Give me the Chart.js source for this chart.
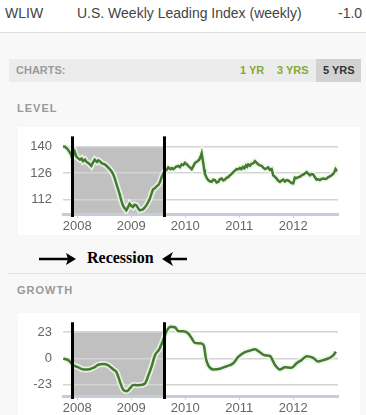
<!DOCTYPE html>
<html>
<head>
<meta charset="utf-8">
<script src="https://cdn.jsdelivr.net/npm/chart.js@4.4.0/dist/chart.umd.min.js"></script>
<style>
body{margin:0;width:366px;height:415px;overflow:hidden;background:#f8f8f8;font-family:"Liberation Sans",Arial,sans-serif;position:relative}
.abs{position:absolute;white-space:nowrap}
.head{left:0;top:0;width:366px;height:32px;background:#fff;border-bottom:1px solid #dcdcdc}
.lbl{font-size:11px;font-weight:bold;color:#999;letter-spacing:1px}
canvas{position:absolute;left:0}
</style>
</head>
<body>
<div class="abs head"></div>
<div class="abs" style="left:5px;top:5px;font-size:14px;color:#444">WLIW</div>
<div class="abs" style="left:77px;top:5px;font-size:14px;color:#444">U.S. Weekly Leading Index (weekly)</div>
<div class="abs" style="left:338px;top:5px;font-size:14px;color:#444">-1.0</div>

<div class="abs" style="left:9px;top:59px;width:352px;height:23px;background:#ececec"></div>
<div class="abs" style="left:316px;top:59px;width:45px;height:23px;background:#d2d2d2"></div>
<div class="abs" style="left:16px;top:64px;font-size:11px;font-weight:bold;color:#9a9a9a">CHARTS:</div>
<div class="abs" style="left:240px;top:64px;font-size:11px;font-weight:bold;color:#86a83a">1 YR</div>
<div class="abs" style="left:277px;top:64px;font-size:11px;font-weight:bold;color:#86a83a">3 YRS</div>
<div class="abs" style="left:323px;top:64px;font-size:11px;font-weight:bold;color:#333">5 YRS</div>

<div class="abs lbl" style="left:17px;top:102px">LEVEL</div>
<div class="abs" style="left:18px;top:127px;width:342px;height:108px;background:#fff"></div>
<canvas id="levelChart" width="366" height="110" style="top:125px"></canvas>

<svg class="abs" style="left:0;top:248px" width="200" height="22">
  <line x1="39" y1="11" x2="70" y2="11" stroke="#000" stroke-width="2.5"/>
  <polygon points="76,11 66,5 68,11 66,17" fill="#000"/>
  <line x1="170" y1="11" x2="187" y2="11" stroke="#000" stroke-width="2.5"/>
  <polygon points="162,11 173,4 170,11 173,18" fill="#000"/>
</svg>
<div class="abs" style="left:87px;top:249px;font-family:'Liberation Serif','Times New Roman',serif;font-weight:bold;font-size:16px;color:#000">Recession</div>

<div class="abs" style="left:8px;top:273px;width:358px;height:1px;background:#e4e4e4"></div>
<div class="abs lbl" style="left:17px;top:284px">GROWTH</div>
<div class="abs" style="left:18px;top:313px;width:342px;height:102px;background:#fff"></div>
<canvas id="growthChart" width="366" height="110" style="top:305px"></canvas>

<script>
// x values are decimal years
var levelDates = [2007.735,2007.772,2007.828,2007.889,2007.902,2007.935,2007.952,2007.985,2008.013,2008.050,2008.080,2008.106,2008.143,2008.170,2008.198,2008.230,2008.259,2008.290,2008.322,2008.365,2008.390,2008.415,2008.457,2008.507,2008.550,2008.600,2008.630,2008.661,2008.690,2008.722,2008.755,2008.785,2008.815,2008.846,2008.875,2008.907,2008.940,2008.970,2009.004,2009.031,2009.060,2009.093,2009.125,2009.156,2009.190,2009.217,2009.250,2009.278,2009.310,2009.341,2009.372,2009.402,2009.440,2009.470,2009.513,2009.540,2009.563,2009.595,2009.624,2009.655,2009.685,2009.726,2009.750,2009.778,2009.828,2009.870,2009.900,2009.933,2009.965,2009.994,2010.025,2010.056,2010.090,2010.119,2010.150,2010.180,2010.220,2010.259,2010.285,2010.304,2010.320,2010.333,2010.350,2010.365,2010.395,2010.426,2010.455,2010.489,2010.520,2010.550,2010.580,2010.611,2010.640,2010.674,2010.705,2010.735,2010.765,2010.796,2010.830,2010.859,2010.905,2010.952,2010.985,2011.013,2011.040,2011.069,2011.095,2011.124,2011.145,2011.167,2011.200,2011.230,2011.260,2011.291,2011.320,2011.352,2011.385,2011.415,2011.445,2011.476,2011.505,2011.537,2011.570,2011.600,2011.630,2011.660,2011.693,2011.720,2011.754,2011.785,2011.815,2011.845,2011.878,2011.910,2011.939,2011.970,2012.000,2012.031,2012.060,2012.093,2012.125,2012.156,2012.200,2012.248,2012.280,2012.309,2012.340,2012.370,2012.400,2012.433,2012.465,2012.494,2012.525,2012.556,2012.590,2012.619,2012.650,2012.680,2012.710,2012.741,2012.765,2012.785,2012.804,2012.815];
var levelValues = [140.0,139.8,138.3,135.5,134.0,136.0,137.2,134.5,133.8,133.0,133.6,132.2,133.0,131.8,131.3,130.6,129.7,131.5,133.0,131.8,132.6,132.2,131.0,130.5,129.5,128.0,127.0,125.5,123.5,120.5,117.5,114.7,111.5,108.9,107.5,106.3,108.0,109.7,108.5,108.0,109.2,108.9,107.5,106.3,106.5,106.8,107.8,108.9,110.5,112.2,114.8,117.2,118.0,118.9,120.0,121.8,123.8,125.8,127.2,127.6,128.9,128.0,128.6,128.0,129.2,129.7,129.0,130.5,130.2,131.3,130.6,129.7,128.8,128.0,129.6,131.3,132.0,133.0,134.6,136.3,133.5,131.3,127.8,125.5,123.5,122.2,121.6,121.3,122.4,122.2,121.0,121.3,122.6,123.0,122.0,122.5,123.4,123.8,124.8,125.5,126.8,128.0,127.9,128.6,128.0,129.2,128.5,130.0,129.3,130.5,129.8,130.9,131.0,132.2,131.4,130.5,130.0,129.7,128.8,128.0,128.4,128.9,127.6,128.0,124.7,124.0,123.0,122.0,121.3,122.0,122.5,121.5,122.2,122.0,121.3,120.6,120.5,123.5,123.2,123.8,124.0,124.7,125.3,126.4,125.6,124.7,125.4,125.2,123.8,122.5,122.6,122.2,122.8,123.0,122.8,123.0,123.8,124.2,124.8,125.5,126.6,128.0,127.2,127.0];

var growthDates = [2007.741,2007.833,2007.926,2008.019,2008.111,2008.204,2008.296,2008.389,2008.481,2008.574,2008.667,2008.730,2008.791,2008.852,2008.915,2008.976,2009.037,2009.100,2009.161,2009.254,2009.315,2009.378,2009.439,2009.519,2009.593,2009.656,2009.730,2009.809,2009.870,2009.963,2010.056,2010.119,2010.180,2010.240,2010.304,2010.346,2010.383,2010.426,2010.519,2010.643,2010.767,2010.889,2010.981,2011.106,2011.198,2011.291,2011.383,2011.476,2011.569,2011.661,2011.754,2011.846,2011.970,2012.063,2012.156,2012.248,2012.370,2012.463,2012.556,2012.648,2012.741,2012.791];
var growthValues = [0,-1.4,-6,-7.7,-9.6,-9.6,-8.2,-5.5,-4.9,-6,-9.6,-12.3,-20.5,-27.4,-28.7,-26,-23.2,-23.4,-23.2,-21.9,-15,-6.8,2.8,8.2,16.4,24.1,27.9,27.4,24.1,23.8,21.9,17.8,13.7,13.4,13.1,11,0,-6,-9.6,-9,-6.8,-4.1,1.4,5.5,6.9,8.2,5.5,2.8,2.2,-5.5,-9.6,-7.7,-8.2,-4.1,-1.4,1.9,0.5,-2.7,-1.4,0,2.8,6];

var years = [2008, 2009, 2010, 2011, 2012];
var levelTicks = [112, 126, 140];
var growthTicks = [-23, 0, 23];
var recession = [2007.90, 2009.60];

var green = '#437a30';
var halo = 'rgba(236,246,232,0.85)';
var font = {family: "'Liberation Sans', Arial, sans-serif", size: 13};

var recessionPlugin = {
  id: 'recession',
  beforeDraw: function(chart, args, opts) {
    var ctx = chart.ctx, area = chart.chartArea;
    var x0 = chart.scales.x.getPixelForValue(recession[0]);
    var x1 = chart.scales.x.getPixelForValue(recession[1]);
    var yTop = chart.scales.y.getPixelForValue(opts.shadeTop);
    ctx.save();
    ctx.fillStyle = '#c0c0c0';
    ctx.fillRect(x0, yTop, x1 - x0, area.bottom - yTop);
    ctx.restore();
  },
  afterDatasetsDraw: function(chart, args, opts) {
    var ctx = chart.ctx, area = chart.chartArea;
    var yTop = chart.scales.y.getPixelForValue(opts.shadeTop) - 10;
    ctx.save();
    ctx.strokeStyle = '#000';
    ctx.lineWidth = 3;
    recession.forEach(function(v) {
      var x = Math.round(chart.scales.x.getPixelForValue(v)) + 0.5;
      ctx.beginPath();
      ctx.moveTo(x, yTop);
      ctx.lineTo(x, area.bottom + 3);
      ctx.stroke();
    });
    ctx.restore();
  }
};

function makeChart(id, dates, values, ticks, ymin, ymax, shadeTop, padTop, xHeight, tension) {
  var pts = dates.map(function(d, i) { return {x: d, y: values[i]}; });
  var mode = tension ? 'monotone' : 'default';
  return new Chart(document.getElementById(id), {
    type: 'line',
    data: {
      datasets: [
        // lower order is drawn on top
        {data: pts, order: 1, borderColor: green, borderWidth: 2.5, pointRadius: 0, tension: tension, cubicInterpolationMode: mode},
        {data: pts, order: 2, borderColor: halo, borderWidth: 6, pointRadius: 0, tension: tension, cubicInterpolationMode: mode}
      ]
    },
    options: {
      responsive: false,
      animation: false,
      devicePixelRatio: 1,
      layout: {padding: {top: padTop, right: 28, left: 0, bottom: 0}},
      plugins: {legend: {display: false}, tooltip: {enabled: false}, recession: {shadeTop: shadeTop}},
      scales: {
        x: {
          type: 'linear',
          min: 2007.735,
          max: 2012.83,
          afterBuildTicks: function(s) { s.ticks = years.map(function(v) { return {value: v}; }); },
          afterFit: function(s) { s.height = xHeight; },
          ticks: {font: font, color: '#666', padding: 1, maxRotation: 0, callback: function(v) { return String(v); }},
          grid: {drawOnChartArea: false, drawTicks: true, tickLength: 4, color: '#cfd6de'},
          border: {color: '#c5ced8', width: 3}
        },
        y: {
          min: ymin,
          max: ymax,
          afterBuildTicks: function(s) { s.ticks = ticks.map(function(v) { return {value: v}; }); },
          afterFit: function(s) { s.width = 63; },
          ticks: {font: font, color: '#666', padding: 11, callback: function(v) { return String(v); }},
          grid: {drawTicks: false, color: '#d4d4d4', lineWidth: 1.5},
          border: {display: false}
        }
      }
    },
    plugins: [recessionPlugin]
  });
}

makeChart('levelChart', levelDates, levelValues, levelTicks, 104.35, 141.35, 140, 15, 21, 0);
makeChart('growthChart', growthDates, growthValues, growthTicks, -32.85, 30.4, 23, 14, 19, 0.3);
</script>
</body>
</html>
